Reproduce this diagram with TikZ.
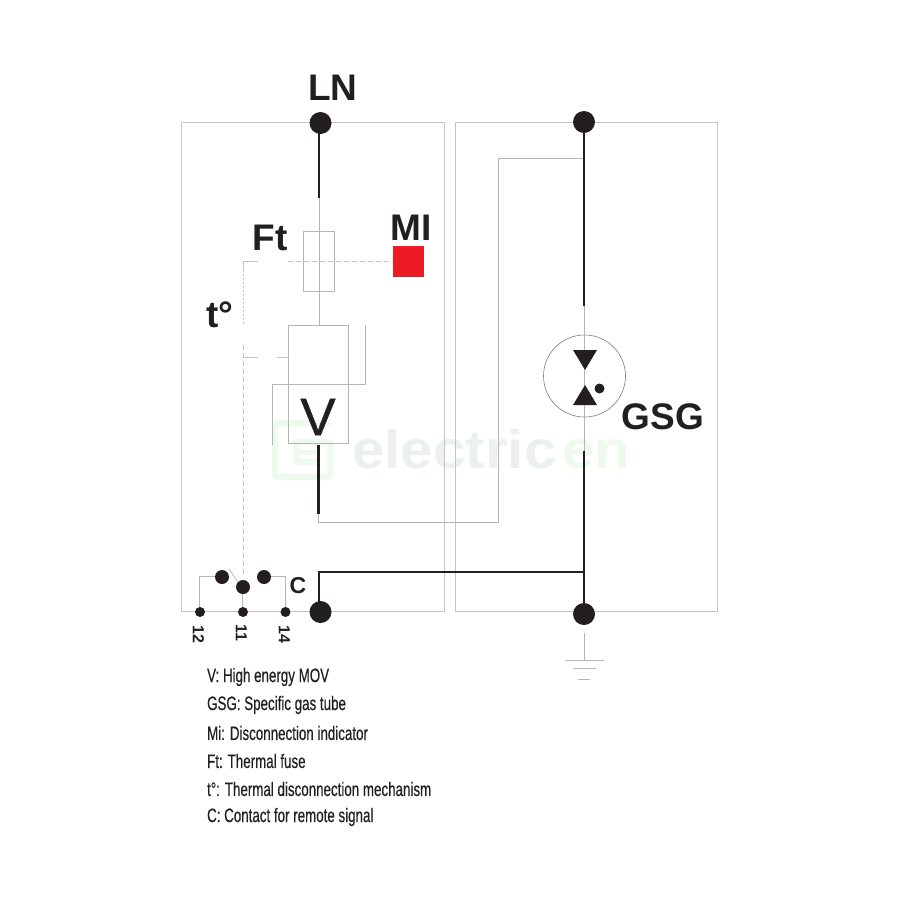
\documentclass[tikz,border=0pt]{standalone}
\usepackage{fontspec}
\setmainfont{Liberation Sans}
\newfontfamily\medfont[FakeBold=0.8]{Liberation Sans}
\newfontfamily\legfont[FakeBold=0.5]{Liberation Sans}
\definecolor{ink}{HTML}{231F20}
\definecolor{thin}{HTML}{C4C6C6}
\definecolor{thinb}{HTML}{B4B6B6}
\definecolor{wmg}{HTML}{EDF0F0}
\definecolor{wmn}{HTML}{EDFAED}
\definecolor{mired}{HTML}{ED1C24}
\tikzset{
  x=1pt,y=-1pt,
  boxline/.style={draw=thin,line width=0.9pt},
  wire/.style={draw=thinb,line width=0.7pt},
  heavy/.style={draw=ink,line width=2.4pt},
  mech/.style={draw=thin,line width=0.8pt,dash pattern=on 5pt off 3pt},
  solidmech/.style={draw=thin,line width=0.8pt},
  bigdot/.style={circle,fill=ink,inner sep=0pt,minimum size=22pt},
  middot/.style={circle,fill=ink,inner sep=0pt,minimum size=14pt},
  smalldot/.style={circle,fill=ink,inner sep=0pt,minimum size=10pt},
  lab/.style={font=\bfseries\fontsize{37}{37}\selectfont,text=ink,inner sep=0pt},
  term/.style={font=\bfseries\fontsize{16}{16}\selectfont,text=ink,inner sep=0pt,rotate=-90},
  legend/.style={font=\legfont\fontsize{19.5}{19.5}\selectfont,text=ink,inner sep=0pt,anchor=west,xscale=0.685,transform shape},
  wmark/.style={font=\bfseries\fontsize{54}{54}\selectfont,inner sep=0pt,anchor=base west,xscale=1.08,transform shape},
}
\begin{document}
\begin{tikzpicture}
\useasboundingbox (0,0) rectangle (900,900);
\fill[white] (0,0) rectangle (900,900);
% watermark
\draw[wmn,line width=6pt,rounded corners=3pt] (330,423) -- (275,423) -- (275,477) -- (330,477) -- (330,440);
\draw[wmn,line width=6pt] (330,442) -- (296,442) -- (296,462) -- (318,462);
\draw[wmn,line width=5pt] (296,452) -- (316,452);
\node[wmark,text=wmg] (wm1) at (352,468) {electric};
\node[wmark,text=wmn] (wm2) at (562,468) {en};
% housings
\node[boxline,minimum width=262.5pt,minimum height=489pt,inner sep=0pt] (left) at (312.75,366.5) {};
\node[boxline,minimum width=262pt,minimum height=489pt,inner sep=0pt] (right) at (586,366.5) {};
% components
\node[wire,minimum width=30.5pt,minimum height=60pt,inner sep=0pt] (fuse) at (318.75,261) {};
\node[wire,minimum width=59.5pt,minimum height=118pt,inner sep=0pt] (mov) at (318.25,384) {};
\node[fill=mired,minimum size=31pt,inner sep=0pt] (mi) at (408.5,261) {};
\node[circle,draw=thinb!70!black,line width=0.6pt,minimum size=82pt,inner sep=0pt] (gas) at (584.5,376) {};
% coordinates
\coordinate (ln0) at (319,123);
\coordinate (pe0) at (319,612);
\coordinate (a1) at (319,198);
\coordinate (a2) at (319,325);
\coordinate (b1) at (318.5,445);
\coordinate (b2) at (318.5,514);
\coordinate (b3) at (318.5,522);
\coordinate (b4) at (498.5,522);
\coordinate (b5) at (498.5,158);
\coordinate (b6) at (584,158);
\coordinate (top0) at (584,122);
\coordinate (g1) at (584,306);
\coordinate (g2) at (584,451);
\coordinate (pe3) at (584,614);
\coordinate (j) at (584,572);
\coordinate (k) at (319,572);
\coordinate (e0) at (584,633);
\coordinate (e1) at (584,660);
% wires
\draw[wire] (a1) -- (a2);
\draw[wire] (b2) -- (b3) -- (b4) -- (b5) -- (b6);
\draw[wire] (g1) -- (g2);
\draw[wire] (365,325) -- (365,384) -- (272.5,384) -- (272.5,445);
% mechanism
\draw[mech] (288,261) -- (mi.west);
\draw[solidmech] (258,261) -- (243,261) -- (243,270);
\draw[mech,dash pattern=on 2pt off 2pt] (243,270) -- (243,325);
\draw[mech] (243,345) -- (243,575);
\draw[solidmech] (243,357) -- (258,357);
\draw[solidmech] (277,357) -- (288.5,357);
% heavy wires
\draw[heavy] (ln0) -- (a1);
\draw[heavy] (b1) -- (b2);
\draw[heavy] (top0) -- (g1);
\draw[heavy] (g2) -- (pe3);
\draw[heavy,line join=miter] (pe0) -- (k) -- (j);
% gas tube glyph
\fill[ink] (573,350) -- (597,350) -- (585,370) -- cycle;
\fill[ink] (573,405) -- (597,405) -- (585,385) -- cycle;
\fill[ink] (599.5,388.5) circle (5);
% contact wires (under the dots)
\draw[wire] (199,612) -- (199,576.5) -- (222,576.5);
\draw[wire] (264,576.5) -- (285,576.5) -- (285,612);
\draw[wire] (242,587) -- (242,612);
\draw[wire] (229,569) -- (238,582);
% terminals
\node[bigdot] (ln) at (320.5,123) {};
\node[bigdot] (pe1) at (320.5,612) {};
\node[bigdot] (top) at (584,122) {};
\node[bigdot] (pe2) at (584,614) {};
\node[middot] (c1) at (222,577) {};
\node[middot] (c0) at (243,587) {};
\node[middot] (c2) at (264,577) {};
\node[smalldot] (t12) at (200,612) {};
\node[smalldot] (t11) at (243,612) {};
\node[smalldot] (t14) at (285.5,612) {};
% earth
\draw[wire] (e0) -- (e1);
\draw[wire] (565,660) -- (604,660);
\draw[wire] (573,668) -- (596,668);
\draw[wire] (578,679) -- (590,679);
% labels
\node[lab] (lLN) at (333,88) {LN};
\node[lab] (lFt) at (270,238) {Ft};
\node[lab] (lMI) at (411.5,228) {MI};
\node[lab] (lt) at (220,315) {t°};
\node[lab] (lGSG) at (663,417) {GSG};
\node[font=\medfont\fontsize{53}{53}\selectfont,text=ink,inner sep=0pt] (lV) at (318,417) {V};
\node[font=\bfseries\fontsize{23}{23}\selectfont,text=ink,inner sep=0pt] (lC) at (298,586) {C};
\node[term] (n12) at (198.5,634) {12};
\node[term] (n11) at (241.5,633) {11};
\node[term] (n14) at (284.5,634) {14};
% legend
\node[legend] (l1) at (207,677) {V: High energy MOV};
\node[legend] (l2) at (207,705) {GSG: Specific gas tube};
\node[legend] (l3) at (207,733) {Mi: Disconnection indicator};
\node[legend] (l4) at (207,761) {Ft: Thermal fuse};
\node[legend] (l5) at (207,789) {t°: Thermal disconnection mechanism};
\node[legend] (l6) at (207,817) {C: Contact for remote signal};
\end{tikzpicture}
\end{document}
